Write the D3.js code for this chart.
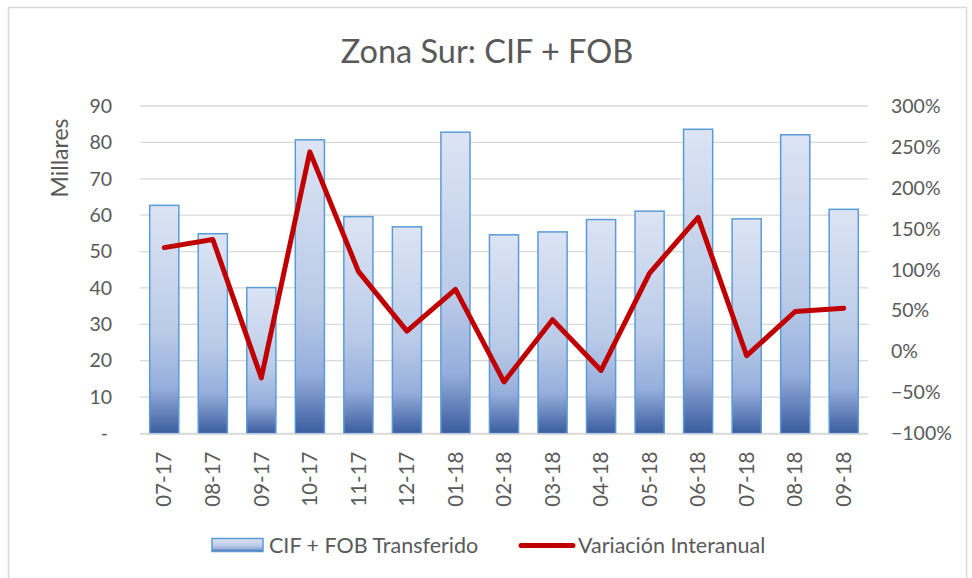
<!DOCTYPE html>
<html>
<head>
<meta charset="utf-8">
<script src="https://cdn.jsdelivr.net/npm/d3@7"></script>
<style>
    body { margin: 0; background: #fff; }
    svg text { font-family: Lato, "Open Sans", sans-serif; fill: #595959; }
    .grid line { stroke: #d9d9d9; stroke-width: 1.3; }
    .line { fill: none; stroke: #c00000; stroke-width: 5; stroke-linejoin: round; stroke-linecap: round; }
</style>
</head>
<body>
<script>
    // data
    var months = ["07-17", "08-17", "09-17", "10-17", "11-17", "12-17", "01-18", "02-18",
        "03-18", "04-18", "05-18", "06-18", "07-18", "08-18", "09-18"];
    var transferido = [62.7, 54.9, 40.1, 80.7, 59.6, 56.8, 82.8, 54.6, 55.4, 58.8, 61.1, 83.6, 59.0, 82.1, 61.6]; // millares
    var variacion = [1.27, 1.37, -0.32, 2.44, 0.98, 0.25, 0.76, -0.37, 0.39, -0.23, 0.96, 1.64, -0.05, 0.49, 0.53];
    var leftTicks = [0, 10, 20, 30, 40, 50, 60, 70, 80, 90];
    var rightTicks = [-1, -0.5, 0, 0.5, 1, 1.5, 2, 2.5, 3];

    var width = 972, height = 578;
    var plot = { left: 140, right: 868, top: 106, bottom: 433.5 };

    var svg = d3.select("body").append("svg")
        .attr("width", width)
        .attr("height", height);

    // gradient for the bars
    var grad = svg.append("defs").append("linearGradient")
        .attr("id", "barGrad")
        .attr("x1", 0).attr("y1", 0).attr("x2", 0).attr("y2", 1);
    grad.append("stop").attr("offset", "0%").attr("stop-color", "#dce4f4");
    grad.append("stop").attr("offset", "55%").attr("stop-color", "#bacbe8");
    grad.append("stop").attr("offset", "80%").attr("stop-color", "#96aedc");
    grad.append("stop").attr("offset", "100%").attr("stop-color", "#3a5c9e");

    // chart border
    svg.append("rect")
        .attr("x", 8.5).attr("y", 7.5)
        .attr("width", 958).attr("height", 580)
        .attr("fill", "none")
        .attr("stroke", "#d9d9d9")
        .attr("stroke-width", 1.5);

    var x = d3.scaleBand()
        .domain(months)
        .range([plot.left, plot.right])
        .paddingInner(0.4)
        .paddingOuter(0.2);

    var y = d3.scaleLinear()
        .domain([0, 90])
        .range([plot.bottom, plot.top]);

    var y2 = d3.scaleLinear()
        .domain([-1, 3])
        .range([plot.bottom, plot.top]);

    // gridlines
    svg.append("g")
        .attr("class", "grid")
        .selectAll("line")
        .data(leftTicks)
        .enter().append("line")
        .attr("x1", plot.left).attr("x2", plot.right)
        .attr("y1", function (d) { return y(d); })
        .attr("y2", function (d) { return y(d); });

    // left axis
    var yAxis = d3.axisLeft(y)
        .tickValues(leftTicks)
        .tickSize(0)
        .tickPadding(0)
        .tickFormat(function (d) { return d === 0 ? "-" : d; });
    var gy = svg.append("g")
        .attr("transform", "translate(" + 112 + ",0)")
        .call(yAxis);
    gy.select(".domain").remove();
    gy.selectAll("text").style("font-size", "19.5px").attr("dx", function (d) { return d === 0 ? -4 : 0; });

    // right axis
    var yAxis2 = d3.axisRight(y2)
        .tickValues(rightTicks)
        .tickSize(0)
        .tickPadding(0)
        .tickFormat(d3.format(".0%"));
    var gy2 = svg.append("g")
        .attr("transform", "translate(" + 891 + ",0)")
        .call(yAxis2);
    gy2.select(".domain").remove();
    gy2.selectAll("text").style("font-size", "19.5px");

    // bars
    svg.append("g")
        .selectAll("rect")
        .data(transferido)
        .enter().append("rect")
        .attr("x", function (d, i) { return x(months[i]); })
        .attr("y", function (d) { return y(d); })
        .attr("width", x.bandwidth())
        .attr("height", function (d) { return y(0) - y(d); })
        .attr("fill", "url(#barGrad)")
        .attr("stroke", "#5b9bd5")
        .attr("stroke-width", 1.5);

    // x axis labels
    var xAxis = d3.axisBottom(x).tickSize(0).tickPadding(0);
    var gx = svg.append("g")
        .attr("transform", "translate(0," + plot.bottom + ")")
        .call(xAxis);
    gx.select(".domain").attr("stroke", "#d9d9d9").attr("stroke-width", 1.3);
    gx.selectAll("text")
        .style("font-size", "20.5px")
        .attr("transform", "rotate(-90)")
        .attr("text-anchor", "end")
        .attr("x", -18)
        .attr("y", 0)
        .attr("dy", "0.35em");

    // line
    var line = d3.line()
        .x(function (d, i) { return x(months[i]) + x.bandwidth() / 2; })
        .y(function (d) { return y2(d); });
    svg.append("path")
        .datum(variacion)
        .attr("class", "line")
        .attr("d", line);

    // title
    svg.append("text")
        .attr("x", 487)
        .attr("y", 63)
        .attr("text-anchor", "middle")
        .style("font-size", "32.5px")
        .text("Zona Sur: CIF + FOB");

    // display units label
    svg.append("text")
        .attr("transform", "translate(68,158) rotate(-90)")
        .attr("text-anchor", "middle")
        .style("font-size", "23px")
        .text("Millares");

    // legend
    var leg = svg.append("g");
    leg.append("rect")
        .attr("x", 212).attr("y", 538.5)
        .attr("width", 51).attr("height", 13)
        .attr("fill", "url(#barGrad)")
        .attr("stroke", "#5b9bd5")
        .attr("stroke-width", 1.5);
    leg.append("text")
        .attr("x", 269).attr("y", 552.5)
        .style("font-size", "21.5px")
        .text("CIF + FOB Transferido");
    leg.append("line")
        .attr("x1", 521).attr("x2", 573)
        .attr("y1", 545.5).attr("y2", 545.5)
        .attr("stroke", "#c00000")
        .attr("stroke-width", 5)
        .attr("stroke-linecap", "round");
    leg.append("text")
        .attr("x", 578).attr("y", 552.5)
        .style("font-size", "21.5px")
        .text("Variación Interanual");
</script>
</body>
</html>
